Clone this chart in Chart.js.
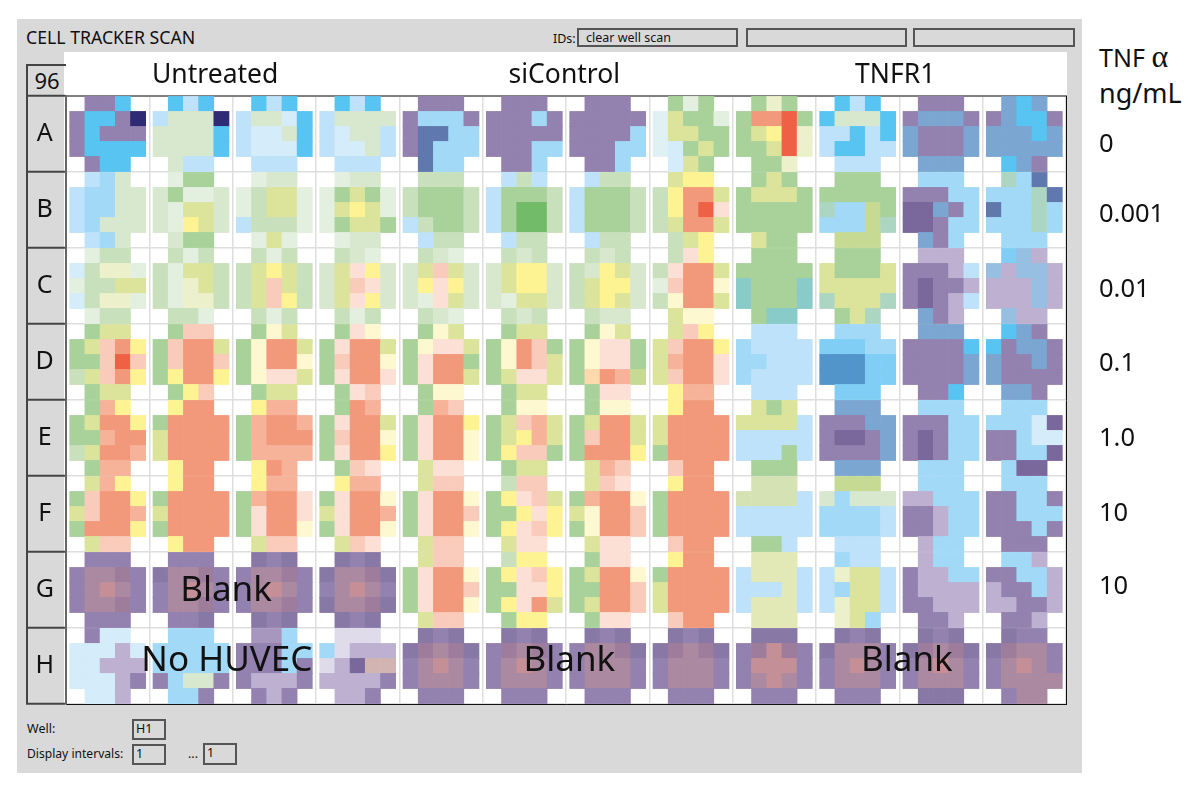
<!DOCTYPE html>
<html>
<head>
<meta charset="utf-8">
<title>Cell tracker scan</title>
<script src="https://cdn.jsdelivr.net/npm/chart.js@4/dist/chart.umd.min.js"></script>
<style>
  html, body { margin: 0; background: #fff; }
  body { width: 1200px; height: 802px; position: relative; overflow: hidden; font-family: "Noto Sans", sans-serif; color: #111; }
  #panel { position: absolute; left: 17px; top: 19px; width: 1065px; height: 754px; background: #d9d9d9; }
  #plate { position: absolute; left: 64px; top: 52px; width: 1003px; height: 652px; background: #fff; }
  #rowbox { position: absolute; left: 26px; top: 96px; width: 38px; height: 607px; border-left: 2px solid #444; }
  #cornerbox { position: absolute; left: 26px; top: 64px; width: 38px; height: 31px; border: 2px solid #444; border-right: 0; border-bottom: 0; font-size: 22px; line-height: 29px; text-align: center; }
  .lbl { position: absolute; white-space: nowrap; }
  .field { position: absolute; box-sizing: border-box; border: 2px solid #555; font-size: 12.5px; line-height: 16px; padding-left: 2px; }
  canvas { position: absolute; left: 0; top: 0; }
</style>
</head>
<body>
<div id="panel"></div>
<div id="plate"></div>
<div id="rowbox"></div>
<div id="cornerbox">96</div>
<div class="lbl" style="left:26px;top:25px;font-size:17.7px;line-height:24px;">CELL TRACKER SCAN</div>
<div class="lbl" style="left:553px;top:30px;font-size:12.5px;line-height:18px;">IDs:</div>
<div class="field" style="left:577px;top:28px;width:161px;height:19px;padding-left:7px;">clear well scan</div>
<div class="field" style="left:746px;top:28px;width:161px;height:19px;"></div>
<div class="field" style="left:913px;top:28px;width:162px;height:19px;"></div>
<div class="lbl" style="left:27px;top:720px;font-size:12.5px;line-height:18px;">Well:</div>
<div class="field" style="left:132px;top:719px;width:34px;height:21px;">H1</div>
<div class="lbl" style="left:27px;top:745px;font-size:12.1px;line-height:18px;">Display intervals:</div>
<div class="field" style="left:132px;top:744px;width:34px;height:21px;">1</div>
<div class="lbl" style="left:188px;top:745px;font-size:12.5px;line-height:18px;">...</div>
<div class="field" style="left:203px;top:743px;width:34px;height:22px;">1</div>
<div class="lbl" style="left:1099px;top:38px;font-size:25px;line-height:36px;">TNF <span style="font-family:'Liberation Serif';font-size:32px;">&alpha;</span></div>
<div class="lbl" style="left:1099px;top:75px;font-size:27px;line-height:36px;">ng/mL</div>
<canvas id="plateChart" width="1200" height="802"></canvas>
<script>
const rowNames = ['A', 'B', 'C', 'D', 'E', 'F', 'G', 'H'];
const groupNames = ['Untreated', 'siControl', 'TNFR1'];
const groupCenters = [1.79, 5.98, 9.95];
const doses = ['0', '0.001', '0.01', '0.1', '1.0', '10', '10'];
const doseRows = [0.64, 1.56, 2.55, 3.52, 4.51, 5.49, 6.46];
const wellNotes = [
  { text: 'Blank', col: 1.92, row: 6.52 },
  { text: 'No HUVEC', col: 1.93, row: 7.44 },
  { text: 'Blank', col: 6.04, row: 7.44 },
  { text: 'Blank', col: 10.09, row: 7.44 }
];

// each well: top row (3), three middle rows (5), bottom row (3), corners are empty
const rowA = ['PPC PCCPD PCPPP PCCCC PCC', 'CLC LGGGD GGGGC GGGGC GLL', 'CLC LGGVC LVVGC LVVVC LLL', 'CLC LGGGG LVGGL LVVGL LLL',
  'PPP PMMMP PXXMM PXMMM XMM', 'PPP PPPMP PPPPP PPPMM PPM', 'PPP PPPPP PPPPM PPPMM PPM', 'NHN eYNNH eYYNN eVNYN VYN',
  'NuN NRRFN NYWFu NNYFu NNu', 'CLC CGGGC LLCLC LCCLL LLL', 'PPP PBBBP BPPPB BPPPB BBB', 'BCB PBCCP BBBCB BBBBB CBP'];
const rowB = ['LMG LMMGG LMMGG LMGGG LMG', 'HNN GNHHG GHYYG GHWYG GNN', 'HGG HOYYH HOYYH LOOOH HYH', 'HGG HNYNH HYWYH HNYYN HGG',
  'OOO ONNNO ONNNO LONNO LOO', 'LOL LNNNO LNKKO LNKKO LOO', 'LOO LNNNO LNNNO LNNNO LOO', 'YWW OWRRY OWRFT OYRRY OYW',
  'NYN NYYYN NNNNN NNNNN YNN', 'NNN NNNNN aMMyN MMMya yyy', 'MMM PPPMM JJBPM JJPMM BPM', 'aMX MMMaX XMMaM MMMaM MMM'];
const rowC = ['HOO VOuuH HOOYY VOuuH HOO', 'OHO OHYYO OHuYO OHuuO OOH', 'OHO OYWYO OYSYO OYSWO OHO', 'OGH GYTWG GYSTG GYTWG OHO',
  'OGH GYSYG GWTWG GHTYG OGH', 'OGO GYWWG GYWWG GHYYG OGO', 'OGO OGWYG OYWWG OYWYG OGG', 'OTW OTRRY HSRRU OURRY YUU',
  'NNN NNNNN tNNNt tNNNt Ntt', 'NNN YNNNY YYYYY aYYYa NYa', 'QQQ PPPQL PJPPQ PJPQL BPQ', 'cbQ bQbbQ QQQbQ QQQbQ bQQ'];
const rowD = ['NYY NYSRW NNSFS OYSRW NYY', 'NSS NSRRY NSRRS NWRRW NWS', 'NUY NURRY NURRU NUTTY NYY', 'NTU NTRRY NSRRU NTRRT NTS',
  'NUY NUTTY NTRRN NTRRY NUU', 'NYY NURSN NURSY NYTTY NYY', 'NUY NUTTN NUTTN NoRsy NTT', 'YSW YSRRW YsRRT YSRRT Wss',
  'LLL MLLLL MMLLL MLLLL LLL', 'MMM cccMM dddcc dddcc ccc', 'BBB PPPPC PPPPB PPPPB PPC', 'CBP CPBBP BPPBP BPPPP BBP'];
const rowE = ['NsW NYRRW NNsRR OYRRs Nss', 'WRR NRRRR YRRRR YRRRR WRR', 'Wss NsRRs NsRRR Nssss WRs', 'NRs NTRRY NSRRU NTRRW NST',
  'NsS NTRRW NTRRU NTRRU YTT', 'NUU NYSsY NYWsY NWSSN NYY', 'NUU NYRRY NSRRY NRRRW YsS', 'WRR YRRRR YRRRR NRRRR SRR',
  'YNY YYYYL LLLLL LLLNL NNN', 'BBB PPPBB PJJPB PPPPB BBB', 'MMM PPPMM PJPMM PJPMM MMM', 'MMM MMMVJ PPMVV PPMMJ MJJ'];
const rowF = ['YsW NSRRW YSRRs NRRRW YSS', 'WRR NRRRR YRRRR NRRRR WRR', 'Wss NsRRT NTRRT NTRRU YSS', 'Wss NTRRU YTRRs NTRRU YST',
  'YSS NTRRU NTRRS NTRRU YSS', 'OSS NWTSY NNWTW NWTSW YTT', 'YST NsRRU YURRS NURRS YTT', 'WRR NRRRR NRRRR NRRRR SRR',
  'hhh hhhhL LLLLL LLLLL NNL', 'yyy GMGGG MMMML MMMML LLL', 'MMM QQMMM PPQMM PPQMM QMM', 'MMM PPMMP PPMMM PPPMP PPP'];
const rowG = ['PPP PEEAP PEIEP PEEAP PPP', 'PPP pEEAP PEIEP PEEAP PPp', 'pPp PEEAP PEIEP PEEAP pPp', 'pPp pEEAp PEIEP pEEAp pPp',
  'YSS NTRRU NTRRS NTRRU YSS', 'OWW NWTSW NNTTW NWTRY NWW', 'NTT NYRRU NNRRS NYRRS NTT', 'WRR NRRRR YRRRR YRRRR SRR',
  'iii LiiiL LLLiL LiiiL iii', 'MLL LuYYL LMYYL LuYYL uYM', 'QMM PQQMM PQQQQ PPQQQ PPQ', 'MMQ PPMMQ QPPMQ QQPPQ PPQ'];
const rowH = ['PVV VVVQV VVQQQ VVVQP VVQ', 'MMM MMMMM MMMMM PMGGP MMP', 'qqM PPPMM PPPMP PQQQP PQP', 'ZZZ MZQQQ ZQJnn QQQQP QQP',
  'pPp pAEAp PEIEP PEEEP PPP', 'pPp PAEAP PEIEP PEEEP PPP', 'pPp PEEAp PEEEP PEEEP PPP', 'pPp pAEAp PEEEP PEEEP PPP',
  'ppp PAIAP PIIIP PEIEP PPP', 'pPp pEEEP PEIEP PEEEP PPP', 'pPp pAEAp PEIEP PEEEP ppp', 'pPP pAEEP PEIEP PEEEE PEE'];

const plateRows = [rowA, rowB, rowC, rowD, rowE, rowF, rowG, rowH];

const levelColors = {
  P: '#9381AF', p: '#8878A6', D: '#2F2A74', C: '#58C4F1', L: '#BDE2F9', M: '#A2D9F6', V: '#D5ECFB', e: '#E0F1F4',
  G: '#D8E8CF', H: '#E3EFDF', O: '#C9E0BC', N: '#A9D29B', K: '#72BB68', Y: '#DCE49B', y: '#C6DA94', h: '#D5E3B4',
  i: '#E2E9B6', u: '#ECF1CC', W: '#FEF392', U: '#FEF8D0', R: '#F3997B', s: '#F7B29A', S: '#F9CBBA', T: '#FCE0D5',
  F: '#EE6144', o: '#FDD9AB', a: '#ADD6C2', t: '#88CBC8', B: '#7AA6D1', b: '#96BFE2', X: '#5F78AE', Q: '#BEB0D1',
  q: '#A797BE', J: '#7A679C', E: '#AB8AA1', A: '#9E7C9C', I: '#C48F96', Z: '#DFDBEA', n: '#D2B5B3', c: '#80CEF5',
  d: '#5295CB'
};

const cellW = 15.2 / (1000 / 12);
const cellH = 15 / 76;
const FONT = '"Noto Sans", sans-serif';

const cells = [];
plateRows.forEach((wells, row) => {
  wells.forEach((well, col) => {
    well.split(' ').forEach((line, i) => {
      const start = line.length === 3 ? 1 : 0;
      for (let j = 0; j < line.length; j++) {
        cells.push({
          x: col + 0.5 + (start + j - 2) * cellW,
          y: row + 0.5 + (i - 2) * cellH,
          level: line[j]
        });
      }
    });
  });
});

const wellNotesPlugin = {
  id: 'wellNotes',
  afterDatasetsDraw(chart) {
    const { ctx, scales } = chart;
    ctx.save();
    ctx.font = '35px ' + FONT;
    ctx.fillStyle = '#111';
    ctx.textAlign = 'center';
    ctx.textBaseline = 'middle';
    wellNotes.forEach(n => {
      ctx.fillText(n.text, scales.x.getPixelForValue(n.col), scales.y.getPixelForValue(n.row));
    });
    ctx.restore();
  }
};

new Chart(document.getElementById('plateChart'), {
  type: 'scatter',
  data: {
    datasets: [{
      data: cells,
      pointStyle: 'rect',
      // a little over the cell size so neighbouring squares leave no seam
      pointRadius: 11.2,
      pointHoverRadius: 11.2,
      pointBorderWidth: 0,
      backgroundColor: ctx => levelColors[ctx.raw.level],
      clip: false
    }]
  },
  options: {
    responsive: false,
    devicePixelRatio: 1,
    animation: false,
    events: [],
    layout: { padding: 0 },
    plugins: { legend: { display: false }, tooltip: { enabled: false } },
    scales: {
      x: {
        type: 'linear', position: 'bottom', min: 0, max: 12,
        afterFit: s => { s.height = 98; },
        ticks: { display: false, stepSize: 1 },
        grid: { color: '#dedede', lineWidth: 1.5, drawTicks: false },
        border: { color: '#111', width: 1 }
      },
      xTop: {
        type: 'linear', position: 'top', min: 0, max: 12,
        afterFit: s => { s.height = 96; },
        afterBuildTicks: s => { s.ticks = groupCenters.map(v => ({ value: v })); },
        ticks: { callback: (v, i) => groupNames[i], font: { family: FONT, size: 26.5 }, color: '#111', padding: -3, maxRotation: 0, autoSkip: false },
        grid: { display: false },
        border: { color: '#808080', width: 2 }
      },
      y: {
        type: 'linear', position: 'left', reverse: true, min: 0, max: 8, weight: 0,
        afterFit: s => { s.width = 0; },
        ticks: { display: false, stepSize: 1 },
        grid: { color: '#dedede', lineWidth: 1.5, tickColor: '#444', tickLength: 40, tickWidth: 2 },
        border: { color: '#666', width: 2 }
      },
      yRow: {
        type: 'linear', position: 'left', reverse: true, min: 0, max: 8, weight: 1,
        afterFit: s => { s.width = 66; },
        afterBuildTicks: s => { s.ticks = rowNames.map((n, i) => ({ value: i + 0.5 })); },
        ticks: { callback: (v, i) => rowNames[i], font: { family: FONT, size: 25 }, color: '#111', padding: 4, crossAlign: 'center', autoSkip: false },
        grid: { display: false },
        border: { display: false }
      },
      yDose: {
        type: 'linear', position: 'right', reverse: true, min: 0, max: 8,
        afterFit: s => { s.width = 134; },
        afterBuildTicks: s => { s.ticks = doseRows.map(v => ({ value: v })); },
        ticks: { callback: (v, i) => doses[i], font: { family: FONT, size: 25.5 }, color: '#111', padding: 33, autoSkip: false },
        grid: { display: false, drawTicks: false },
        border: { color: '#111', width: 1 }
      }
    }
  },
  plugins: [wellNotesPlugin]
});
</script>
</body>
</html>
